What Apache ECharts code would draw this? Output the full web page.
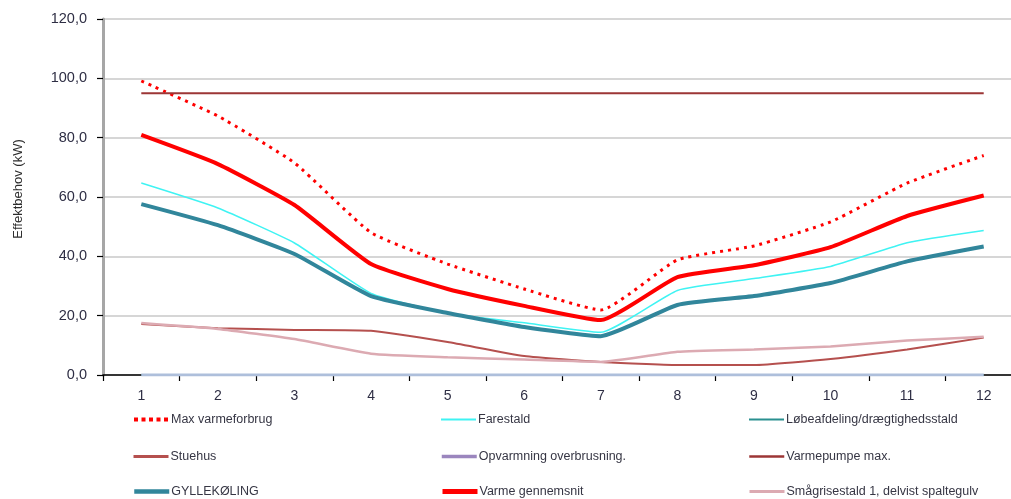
<!DOCTYPE html>
<html>
<head>
<meta charset="utf-8">
<script src="https://cdn.jsdelivr.net/npm/echarts@6/dist/echarts.min.js"></script>
<style>html,body{margin:0;padding:0;background:#fff;}#c{width:1011px;height:499px;}</style>
</head>
<body>
<div id="c"></div>
<script>
const categories = ['1','2','3','4','5','6','7','8','9','10','11','12'];
const maxVarmeforbrug = [99.1, 87.3, 71.5, 48.0, 37.4, 29.0, 21.9, 38.8, 43.5, 51.6, 64.7, 74.0];
const farestald = [64.7, 56.3, 44.5, 27.5, 20.8, 17.6, 14.4, 28.5, 32.5, 36.6, 44.6, 48.7];
const loebeafdeling = [0,0,0,0,0,0,0,0,0,0,0,0];
const stuehus = [17.2, 15.8, 15.2, 14.9, 11.1, 6.4, 4.4, 3.4, 3.4, 5.4, 8.6, 12.6];
const opvarmning = [0,0,0,0,0,0,0,0,0,0,0,0];
const varmepumpeMax = [95,95,95,95,95,95,95,95,95,95,95,95];
const gyllekoeling = [57.6, 50.5, 40.8, 26.6, 20.9, 16.2, 13.1, 23.6, 26.6, 31.0, 38.3, 43.3];
const varmeGennemsnit = [80.9, 71.1, 57.3, 37.4, 29.0, 23.3, 18.5, 33.0, 37.0, 43.1, 53.6, 60.5];
const smaagrisestald = [17.5, 15.5, 12.1, 7.2, 6.0, 5.2, 4.4, 7.8, 8.6, 9.6, 11.6, 12.9];
const yTicks = {min: 0, max: 120, interval: 20};

const FONT = '"Liberation Sans", Arial, sans-serif';
const chart = echarts.init(document.getElementById('c'));

function ser(name, data, color, width, type) {
  return {
    name: name, type: 'line', data: data, symbol: 'none', showSymbol: false,
    smooth: 0.15,
    lineStyle: {color: color, width: width, type: type || 'solid'},
    itemStyle: {color: color},
    emphasis: {disabled: true}, animation: false
  };
}
const series = [
  ser('Max varmeforbrug', maxVarmeforbrug, '#ff0000', 3, [3, 5]),
  ser('Farestald', farestald, '#3ff3f3', 1.5),
  ser('Løbeafdeling/drægtighedsstald', loebeafdeling, '#2a9090', 1.5),
  ser('Stuehus', stuehus, '#b5504e', 2),
  ser('Opvarmning overbrusning.', opvarmning, '#aebfdb', 3),
  ser('Varmepumpe max.', varmepumpeMax, '#9c3636', 2),
  ser('GYLLEKØLING', gyllekoeling, '#31869b', 4),
  ser('Varme gennemsnit', varmeGennemsnit, '#ff0000', 4),
  ser('Smågrisestald 1, delvist spaltegulv', smaagrisestald, '#dcaab2', 2.5)
];

// legend item: name, left, rowCenterY, icon line color, icon line width, icon line type
const legendItems = [
  ['Max varmeforbrug', 132, 420, '#ff0000', 4, [4, 3.5]],
  ['Farestald', 440, 420, '#3ff3f3', 2, 'solid'],
  ['Løbeafdeling/drægtighedsstald', 748, 420, '#2a9090', 2, 'solid'],
  ['Stuehus', 132, 457, '#b5504e', 3, 'solid'],
  ['Opvarmning overbrusning.', 440, 457, '#9b86be', 3.5, 'solid'],
  ['Varmepumpe max.', 748, 457, '#9c3636', 2.5, 'solid'],
  ['GYLLEKØLING', 132, 492, '#31869b', 4.5, 'solid'],
  ['Varme gennemsnit', 440, 492, '#ff0000', 5, 'solid'],
  ['Smågrisestald 1, delvist spaltegulv', 748, 492, '#dcaab2', 3, 'solid']
];
const legends = legendItems.map(it => ({
  orient: 'horizontal', left: it[1], top: it[2] - 7, padding: 0,
  itemWidth: 35, itemHeight: 14, selectedMode: false,
  itemStyle: {opacity: 0},
  textStyle: {fontFamily: FONT, fontSize: 12.5, color: '#363644', padding: [0, 0, 0, -3]},
  data: [{name: it[0], lineStyle: {color: it[3], width: it[4], type: it[5], opacity: 1}, itemStyle: {opacity: 0}}]
}));

chart.setOption({
  animation: false,
  backgroundColor: '#ffffff',
  grid: {left: 103, top: 19, width: 919, bottom: 124, containLabel: false, outerBoundsMode: 'none'},
  legend: legends,
  xAxis: {
    type: 'category', data: categories, boundaryGap: true,
    axisLine: {show: true, lineStyle: {color: '#000000', width: 1.5}},
    axisTick: {show: true, length: 6, lineStyle: {color: '#000000', width: 1.2}},
    axisLabel: {margin: 14, fontFamily: FONT, fontSize: 14, color: '#2e2e44'},
    splitLine: {show: false}
  },
  yAxis: {
    type: 'value', min: yTicks.min, max: yTicks.max, interval: yTicks.interval,
    name: 'Effektbehov (kW)', nameLocation: 'middle', nameGap: 78, nameRotate: 90,
    nameTextStyle: {fontFamily: FONT, fontSize: 13, color: '#2e2e2e', padding: [0, 0, 0, 16]},
    axisLine: {show: true, lineStyle: {color: '#a6a6a6', width: 3}},
    axisTick: {show: true, length: 6, lineStyle: {color: '#000000', width: 1.2}},
    axisLabel: {margin: 16, fontFamily: FONT, fontSize: 14.5, color: '#2e2e44',
      formatter: v => v.toFixed(1).replace('.', ',')},
    splitLine: {show: true, lineStyle: {color: '#c8c8c8', width: 1.5}}
  },
  series: series
});
</script>
</body>
</html>
